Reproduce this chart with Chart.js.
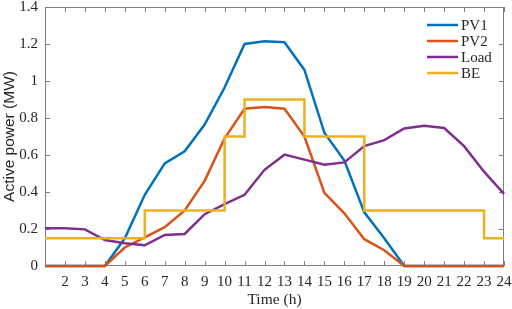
<!DOCTYPE html>
<html>
<head>
<meta charset="utf-8">
<script src="https://cdn.jsdelivr.net/npm/chart.js@4.4.1/dist/chart.umd.min.js"></script>
<style>
  html, body { margin: 0; padding: 0; background: #fff; }
  #wrap { width: 512px; height: 309px; }
</style>
</head>
<body>
<div id="wrap"><canvas id="powerChart"></canvas></div>
<script>
// hourly values
const hours = [1, 2, 3, 4, 5, 6, 7, 8, 9, 10, 11, 12, 13, 14, 15, 16, 17, 18, 19, 20, 21, 22, 23, 24];
const pv1  = [0, 0, 0, 0, 0.15, 0.385, 0.555, 0.62, 0.765, 0.965, 1.2, 1.215, 1.21, 1.06, 0.72, 0.57, 0.29, 0.15, 0, 0, 0, 0, 0, 0];
const pv2  = [0, 0, 0, 0, 0.1, 0.155, 0.21, 0.3, 0.46, 0.69, 0.85, 0.86, 0.85, 0.7, 0.395, 0.285, 0.145, 0.085, 0, 0, 0, 0, 0, 0];
const load = [0.204, 0.204, 0.198, 0.14, 0.123, 0.112, 0.168, 0.173, 0.28, 0.335, 0.385, 0.52, 0.602, 0.575, 0.548, 0.56, 0.648, 0.68, 0.743, 0.758, 0.746, 0.648, 0.51, 0.39];
const be   = [0.15, 0.15, 0.15, 0.15, 0.15, 0.3, 0.3, 0.3, 0.3, 0.7, 0.9, 0.9, 0.9, 0.7, 0.7, 0.7, 0.3, 0.3, 0.3, 0.3, 0.3, 0.3, 0.15, 0.15];
const yTicks = [0, 0.2, 0.4, 0.6, 0.8, 1, 1.2, 1.4];

const seriesNames = ['PV1', 'PV2', 'Load', 'BE'];
const seriesColors = ['#0072BD', '#D95319', '#7E2F8E', '#EDB120'];
const seriesData = [pv1, pv2, load, be];

const serif = "'Liberation Serif', 'Times New Roman', serif";
const sans = "'Liberation Sans', Arial, sans-serif";
const textColor = '#262626';
const axisColor = '#808080';

function points(arr) {
    return hours.map((h, i) => ({ x: h, y: arr[i] }));
}

// box and inward tick marks on all four sides, MATLAB style
const boxTicks = {
    id: 'boxTicks',
    beforeDatasetsDraw(chart) {
        const ctx = chart.ctx;
        const a = chart.chartArea;
        const xs = chart.scales.x;
        const ys = chart.scales.y;
        const len = 5;
        ctx.save();
        ctx.strokeStyle = axisColor;
        ctx.lineWidth = 1;
        ctx.beginPath();
        ctx.rect(a.left + 0.5, a.top + 0.5, a.right - a.left - 1, a.bottom - a.top - 1);
        hours.forEach(h => {
            const px = Math.round(xs.getPixelForValue(h)) + 0.5;
            ctx.moveTo(px, a.bottom); ctx.lineTo(px, a.bottom - len);
            ctx.moveTo(px, a.top); ctx.lineTo(px, a.top + len);
        });
        yTicks.forEach(v => {
            const py = Math.round(ys.getPixelForValue(v)) + 0.5;
            ctx.moveTo(a.left, py); ctx.lineTo(a.left + len, py);
            ctx.moveTo(a.right, py); ctx.lineTo(a.right - len, py);
        });
        ctx.stroke();
        ctx.restore();
    }
};

// legend inside the top right corner, no frame
const innerLegend = {
    id: 'innerLegend',
    afterDraw(chart) {
        const ctx = chart.ctx;
        const a = chart.chartArea;
        ctx.save();
        ctx.font = '15px ' + serif;
        ctx.textBaseline = 'middle';
        ctx.textAlign = 'left';
        chart.data.datasets.forEach((ds, i) => {
            const y = a.top + 18 + i * 16;
            const x0 = a.right - 77;
            ctx.strokeStyle = ds.borderColor;
            ctx.lineWidth = 2.5;
            ctx.beginPath();
            ctx.moveTo(x0, y);
            ctx.lineTo(x0 + 31, y);
            ctx.stroke();
            ctx.fillStyle = textColor;
            ctx.fillText(ds.label, x0 + 34, y + 1);
        });
        ctx.restore();
    }
};

const datasets = seriesNames.map((name, i) => ({
    label: name,
    data: points(seriesData[i]),
    borderColor: seriesColors[i],
    backgroundColor: seriesColors[i],
    borderWidth: 2.5,
    pointRadius: 0,
    tension: 0,
    fill: false,
    clip: 4,
    stepped: name === 'BE' ? 'before' : false,
    order: seriesNames.length - i
}));

new Chart(document.getElementById('powerChart').getContext('2d'), {
    type: 'line',
    data: { datasets: datasets },
    options: {
        responsive: true,
        maintainAspectRatio: false,
        animation: false,
        layout: { padding: { top: 7, right: 8, left: 0, bottom: 0 } },
        plugins: {
            legend: { display: false },
            tooltip: { enabled: false }
        },
        scales: {
            x: {
                type: 'linear',
                min: 1,
                max: 24,
                grid: { display: false, drawTicks: false },
                border: { display: false },
                ticks: {
                    stepSize: 1,
                    autoSkip: false,
                    maxRotation: 0,
                    padding: 7,
                    color: textColor,
                    font: { family: serif, size: 15 },
                    callback: v => (v === 1 ? '' : String(v))
                },
                title: {
                    display: true,
                    text: 'Time (h)',
                    color: textColor,
                    font: { family: serif, size: 15.5 },
                    padding: { top: 0, bottom: 0 }
                },
                afterFit: s => { s.height = 43; s.paddingLeft = 0; s.paddingRight = 0; }
            },
            y: {
                min: 0,
                max: 1.4,
                grid: { display: false, drawTicks: false },
                border: { display: false },
                afterBuildTicks: s => { s.ticks = yTicks.map(v => ({ value: v })); },
                ticks: {
                    padding: 7,
                    color: textColor,
                    font: { family: serif, size: 15 },
                    callback: v => String(Math.round(v * 10) / 10)
                },
                title: {
                    display: true,
                    text: 'Active power (MW)',
                    color: textColor,
                    font: { family: sans, size: 15.5 },
                    padding: { top: 0, bottom: 3 }
                },
                afterFit: s => { s.width = 45; s.paddingTop = 0; s.paddingBottom = 0; }
            }
        }
    },
    plugins: [boxTicks, innerLegend]
});
</script>
</body>
</html>
